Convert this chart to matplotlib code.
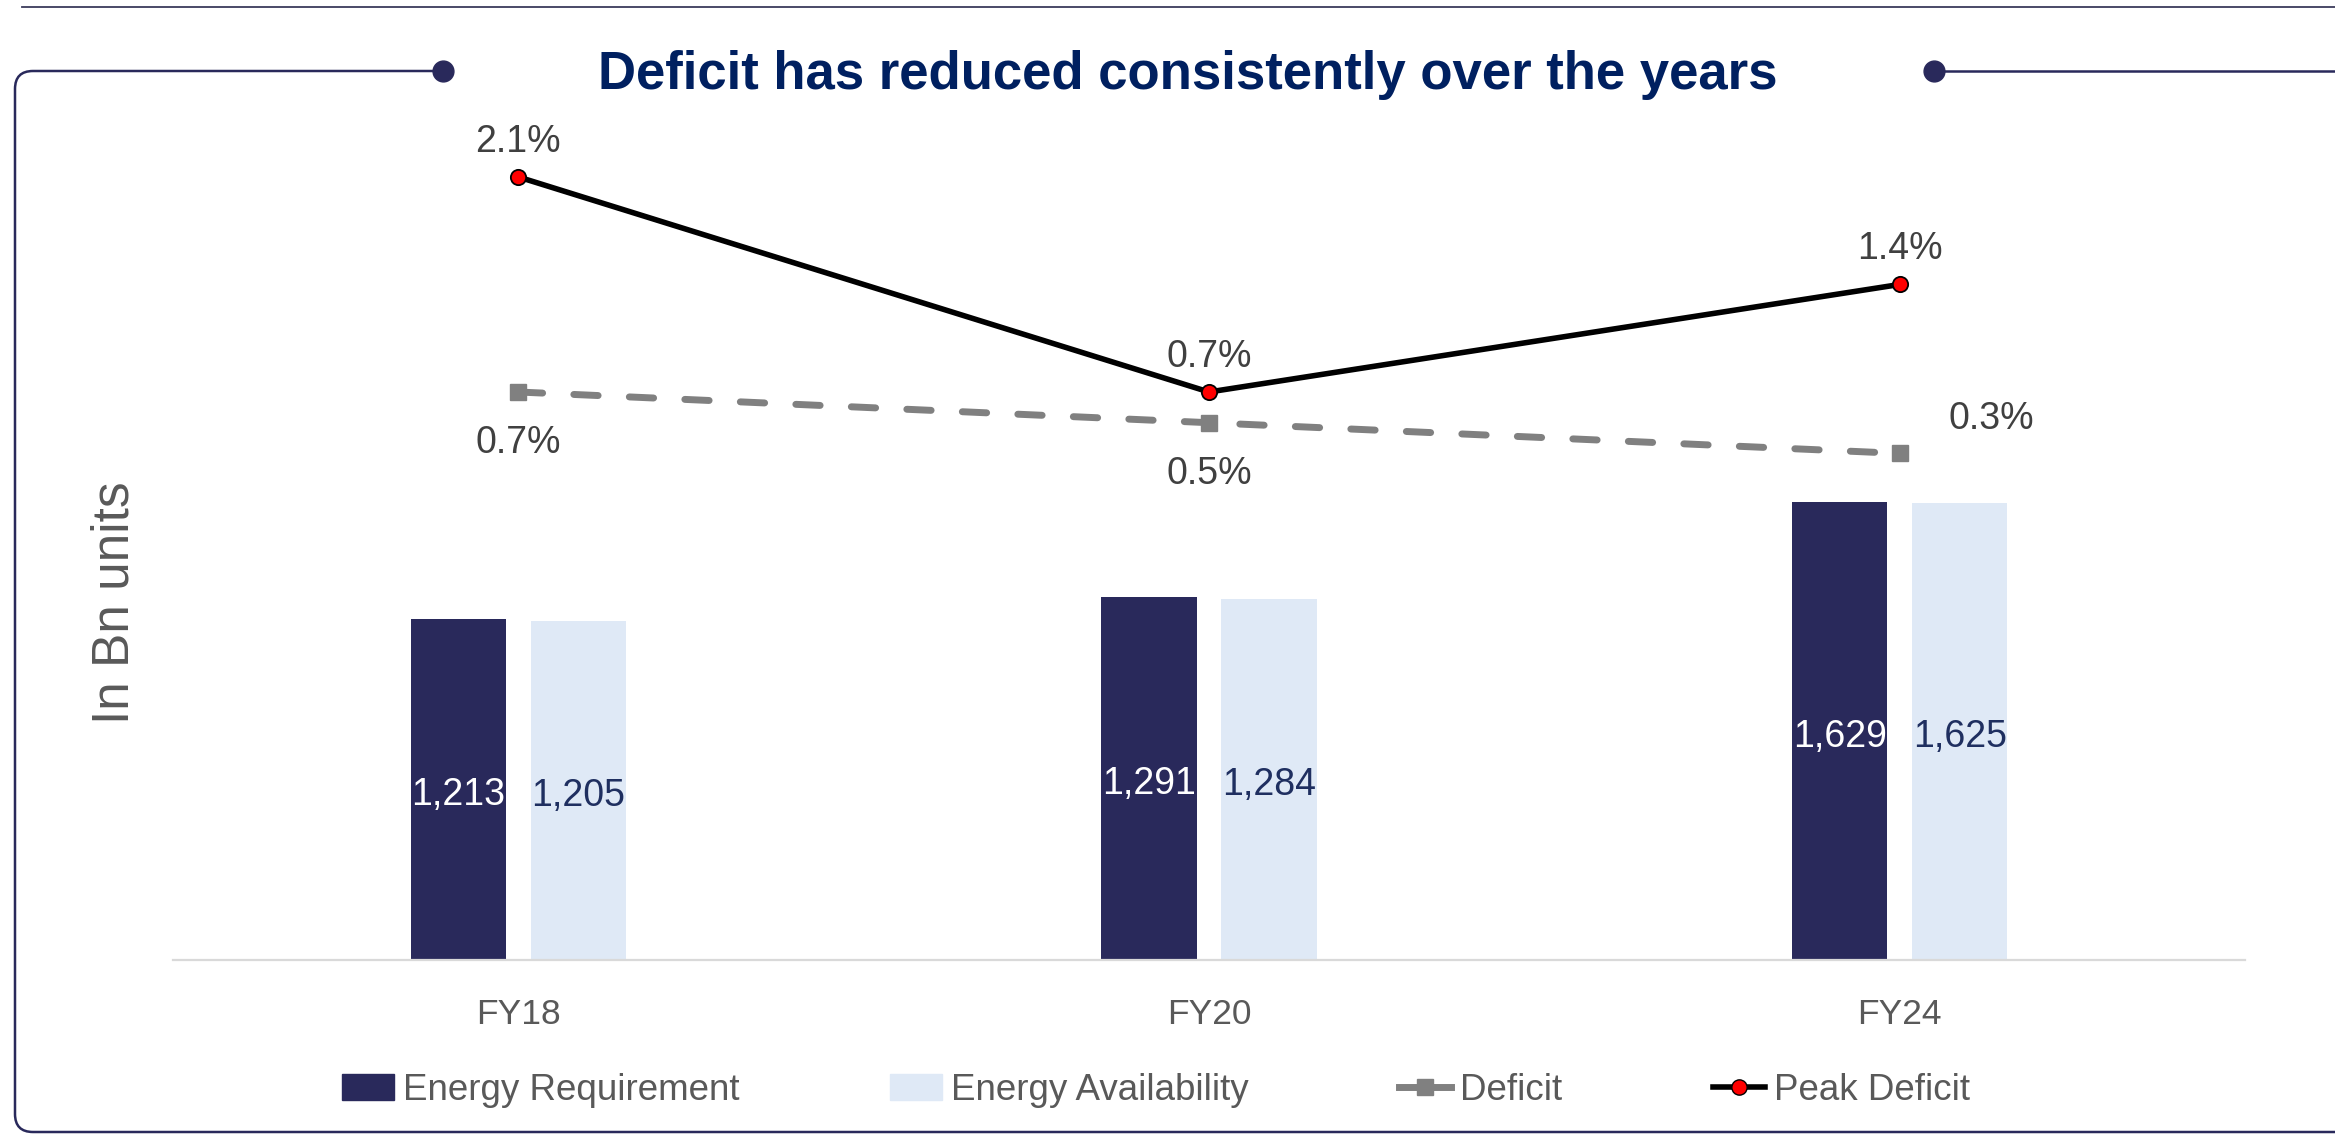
import matplotlib
matplotlib.use('Agg')
import matplotlib.pyplot as plt
from matplotlib.lines import Line2D
from matplotlib.patches import Patch, PathPatch
from matplotlib.path import Path
import numpy as np

plt.rcParams['font.family'] = ['Liberation Sans', 'DejaVu Sans']

years = ['FY18', 'FY20', 'FY24']
energy_requirement = [1213, 1291, 1629]
energy_availability = [1205, 1284, 1625]
deficit = [0.7, 0.5, 0.3]
peak_deficit = [2.1, 0.7, 1.4]

title = 'Deficit has reduced consistently over the years'
ylabel = 'In Bn units'

navy = '#29295b'
light = '#dfe9f6'
W, H = 2335, 1134


def px(x, y):
  # pixel position (from top-left) -> figure fraction
  return x / W, 1 - y / H


fig = plt.figure(figsize=(W / 100, H / 100), dpi=100)
ax = fig.add_axes([173 / W, 1 - 960 / H, (2245 - 173) / W, 860 / H])
ax.patch.set_visible(False)
ax2 = ax.twinx()

x = np.arange(len(years))
w = 0.138
ax.bar(x - 0.087, energy_requirement, w, color=navy, zorder=2)
ax.bar(x + 0.087, energy_availability, w, color=light, zorder=2)
for i in range(len(years)):
  ax.annotate('{:,}'.format(energy_requirement[i]), (x[i] - 0.087, energy_requirement[i] / 2),
              xytext=(0, -4), textcoords='offset points',
              ha='center', va='center', fontsize=27, color='white')
  ax.annotate('{:,}'.format(energy_availability[i]), (x[i] + 0.087, energy_availability[i] / 2),
              xytext=(0, -4), textcoords='offset points',
              ha='center', va='center', fontsize=27, color='#1f2f60')

ax.set_xlim(-0.5, 2.5)
ax.set_ylim(0, 3059)
ax.set_xticks(x)
ax.set_xticklabels(years, fontsize=25.5, color='#595959')
ax.tick_params(axis='x', length=0, pad=27)
ax.set_yticks([])
for s in ['top', 'left', 'right']:
  ax.spines[s].set_visible(False)
ax.spines['bottom'].set_color('#d9d9d9')
ax.spines['bottom'].set_linewidth(1.6)

ax2.plot(x, deficit, color='#808080', lw=5, ls=(0, (3.5, 4.5)), dash_capstyle='round',
         marker='s', markersize=12, zorder=3)
ax2.plot(x, peak_deficit, color='black', lw=4, marker='o', markersize=11,
         markerfacecolor='red', markeredgecolor='black', markeredgewidth=1.3, zorder=4)
ax2.set_ylim(-2.998, 2.601)
ax2.set_yticks([])
for s in ['top', 'left', 'right', 'bottom']:
  ax2.spines[s].set_visible(False)

for i in range(len(years)):
  ax2.annotate('{:.1f}%'.format(peak_deficit[i]), (x[i], peak_deficit[i]), xytext=(0, 25.5),
               textcoords='offset points', ha='center', va='center', fontsize=27, color='#404040')
for i in range(len(years)):
  off = (0, -37) if i < 2 else (66, 25)
  ax2.annotate('{:.1f}%'.format(deficit[i]), (x[i], deficit[i]), xytext=off,
               textcoords='offset points', ha='center', va='center', fontsize=27, color='#404040')

handles = [
  Patch(color=navy),
  Patch(color=light),
  Line2D([], [], color='#808080', lw=5, marker='s', markersize=12),
  Line2D([], [], color='black', lw=4, marker='o', markersize=11,
         markerfacecolor='red', markeredgecolor='black'),
]
labels = ['Energy Requirement', 'Energy Availability', 'Deficit', 'Peak Deficit']
leg = fig.legend(handles, labels, loc='center', bbox_to_anchor=px(1156, 1090), ncol=4,
                 frameon=False, fontsize=26.5, handlelength=1.4, handletextpad=0.25,
                 columnspacing=4.1, borderaxespad=0)
for t in leg.get_texts():
  t.set_color('#595959')

fig.text(*px(1188, 75), title, ha='center', va='center', fontsize=38,
         fontweight='bold', color='#002060')
fig.text(*px(115, 603), ylabel, ha='center', va='center', rotation=90,
         fontsize=37, color='#595959')

# decorative frame
fig.add_artist(Line2D([px(22, 7)[0], 1], [px(22, 7)[1]] * 2, transform=fig.transFigure,
                      color='#3b3b5c', lw=1.3))
r = 18
verts = [px(443, 71), px(15 + r, 71), px(15, 71), px(15, 71 + r), px(15, 1132 - r),
         px(15, 1132), px(15 + r, 1132), px(2400, 1132)]
codes = [Path.MOVETO, Path.LINETO, Path.CURVE3, Path.CURVE3, Path.LINETO,
         Path.CURVE3, Path.CURVE3, Path.LINETO]
fig.add_artist(PathPatch(Path(verts, codes), transform=fig.transFigure, fill=False,
                         edgecolor=navy, lw=1.8))
fig.add_artist(Line2D([px(1934, 71)[0], 1], [px(1934, 71)[1]] * 2, transform=fig.transFigure,
                      color=navy, lw=1.8))
for dx in [443, 1934]:
  fig.add_artist(Line2D([px(dx, 71)[0]], [px(dx, 71)[1]], transform=fig.transFigure,
                        marker='o', markersize=15, color=navy))

fig.savefig('out.png', dpi=100)
